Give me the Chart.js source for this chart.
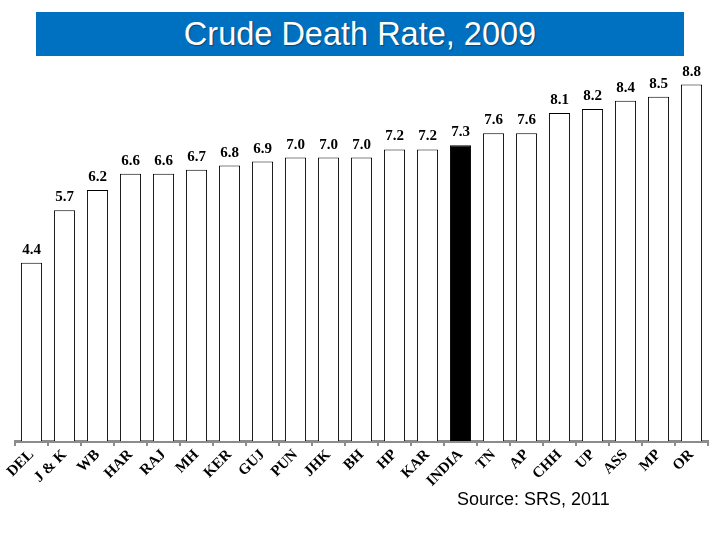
<!DOCTYPE html>
<html>
<head>
<meta charset="utf-8">
<script src="https://cdn.jsdelivr.net/npm/chart.js@4"></script>
<style>
  body { margin: 0; background: #fff; }
  #wrap { position: relative; width: 720px; height: 540px; }
  #titre {
    position: absolute; left: 36px; top: 12px; width: 648px; height: 44px;
    background: #0070c0; color: #fff;
    font-family: "Liberation Sans", Arial, sans-serif; font-size: 32.5px;
    line-height: 44px; text-align: center;
    text-shadow: 1px 1px 1px rgba(0,0,0,0.35);
  }
  #source {
    position: absolute; left: 457px; top: 489px;
    font-family: "Liberation Sans", Arial, sans-serif; font-size: 18px; color: #000;
  }
  canvas { position: absolute; left: 0; top: 0; }
</style>
</head>
<body>
<div id="wrap">
  <canvas id="graphique" width="720" height="540"></canvas>
  <div id="titre">Crude Death Rate, 2009</div>
  <div id="source">Source: SRS, 2011</div>
</div>
<script>
const etats = ["DEL", "J & K", "WB", "HAR", "RAJ", "MH", "KER", "GUJ", "PUN", "JHK", "BH",
               "HP", "KAR", "INDIA", "TN", "AP", "CHH", "UP", "ASS", "MP", "OR"];
const tauxMortalite = [4.4, 5.7, 6.2, 6.6, 6.6, 6.7, 6.8, 6.9, 7.0, 7.0, 7.0,
                       7.2, 7.2, 7.3, 7.6, 7.6, 8.1, 8.2, 8.4, 8.5, 8.8];
const moyenne = "INDIA";

const couleurs = etats.map(e => e === moyenne ? "#000000" : "#ffffff");

// etiquettes de valeur au-dessus des barres
const etiquettes = {
    id: "etiquettes",
    afterDatasetsDraw(chart) {
        const ctx = chart.ctx;
        const meta = chart.getDatasetMeta(0);
        ctx.save();
        ctx.font = "bold 15px 'Liberation Serif', 'Times New Roman', serif";
        ctx.fillStyle = "#000";
        ctx.textAlign = "center";
        ctx.textBaseline = "alphabetic";
        meta.data.forEach((barre, i) => {
            ctx.fillText(tauxMortalite[i].toFixed(1), barre.x, barre.y - 9);
        });
        ctx.restore();
    }
};

const data = {
    labels: etats,
    datasets: [{
        data: tauxMortalite,
        backgroundColor: couleurs,
        borderColor: "#000",
        borderWidth: 1,
        barPercentage: 0.64,
        categoryPercentage: 1.0,
    }]
};

const config = {
    type: "bar",
    data: data,
    options: {
        responsive: false,
        animation: false,
        layout: { padding: { top: 36, left: 15, right: 12, bottom: 50 } },
        plugins: { legend: { display: false }, tooltip: { enabled: false } },
        scales: {
            y: { display: false, min: 0, max: 10 },
            x: {
                offset: true,
                grid: { drawOnChartArea: false, drawTicks: true, tickLength: 5, color: "#8c8c8c", lineWidth: 2 },
                border: { display: true, color: "#8c8c8c", width: 3 },
                ticks: {
                    minRotation: 45, maxRotation: 45, color: "#000", padding: 0,
                    font: { family: "'Liberation Serif', 'Times New Roman', serif", size: 15, weight: "bold" }
                }
            }
        }
    },
    plugins: [etiquettes]
};

const graphique = new Chart(document.querySelector("#graphique"), config);
</script>
</body>
</html>
